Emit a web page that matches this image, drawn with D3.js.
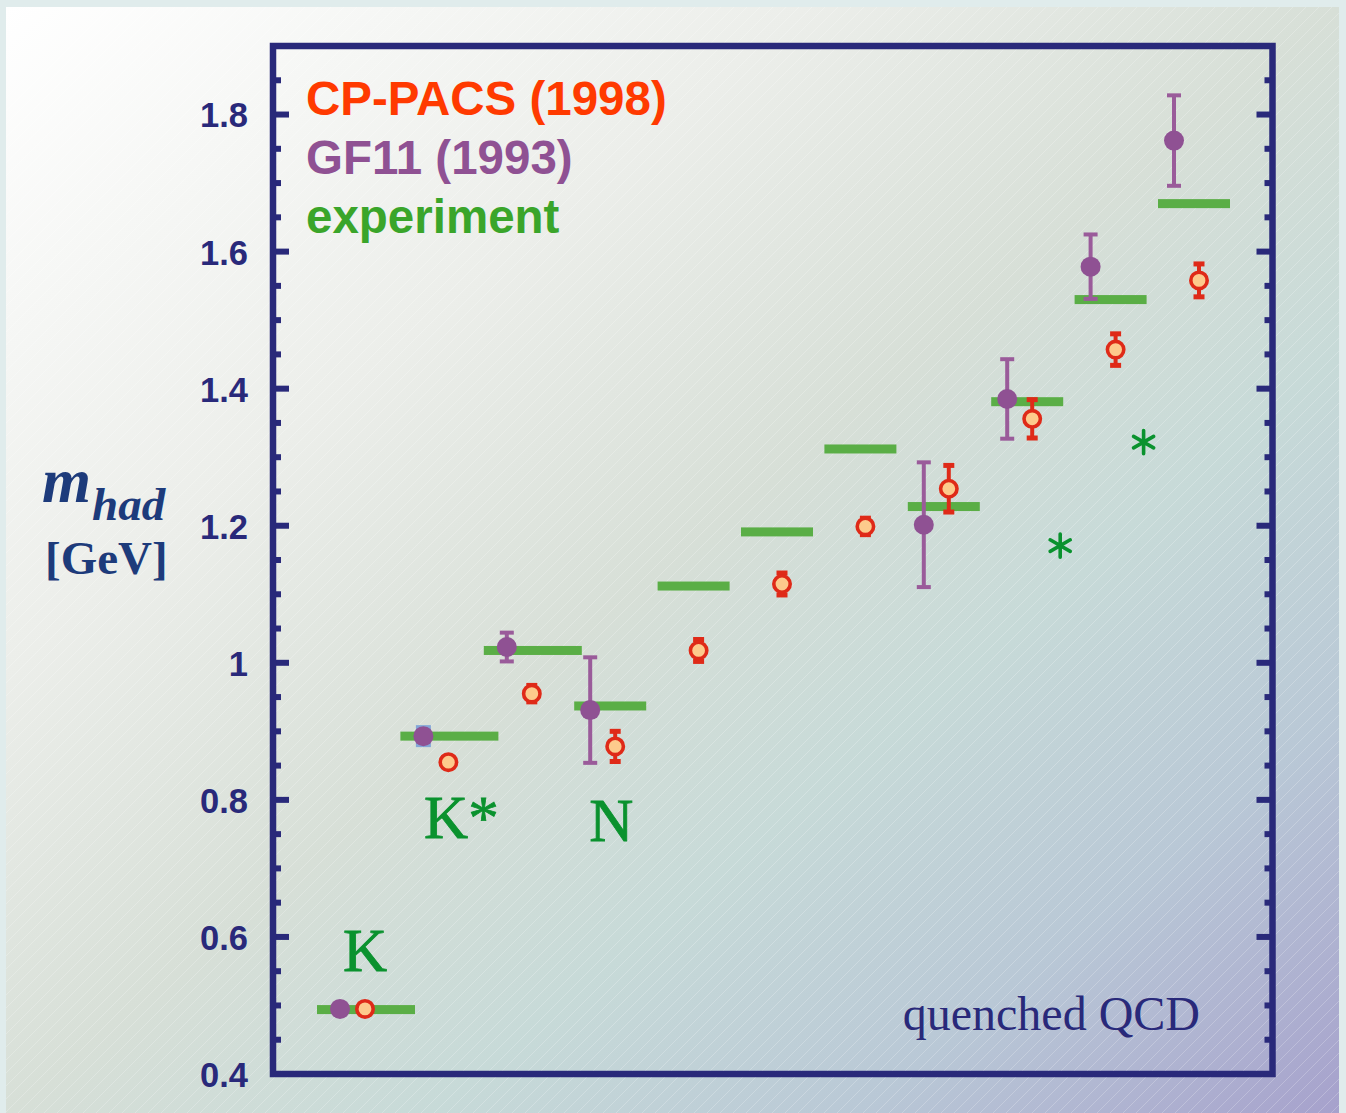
<!DOCTYPE html>
<html>
<head>
<meta charset="utf-8">
<script src="https://cdn.jsdelivr.net/npm/d3@7"></script>
<style>
  html, body { margin: 0; padding: 0; background: #e0ecec; }
  svg { display: block; }
</style>
</head>
<body>
<script>
// ---------------- data ----------------
const categories = ["K", "K*", "φ", "N", "Λ", "Σ", "Ξ", "Δ", "Σ*", "Ξ*", "Ω"];
const hadronType = ["meson", "meson", "meson", "baryon", "baryon", "baryon", "baryon", "baryon", "baryon", "baryon", "baryon"];
const experiment = [0.494, 0.893, 1.018, 0.937, 1.112, 1.191, 1.312, 1.228, 1.381, 1.530, 1.670];
const cpPacs     = [0.495, 0.855, 0.955, 0.878, 1.018, 1.115, 1.199, 1.254, 1.356, 1.457, 1.558];
const cpPacsErr  = [0, 0, 0.012, 0.022, 0.016, 0.016, 0.012, 0.034, 0.028, 0.023, 0.024];
const gf11       = [0.495, 0.893, 1.023, 0.931, null, null, null, 1.2015, 1.385, 1.578, 1.762];
const gf11Err    = [0, 0, 0.021, 0.077, null, null, null, 0.091, 0.058, 0.047, 0.066];
const gf11Input  = ["K*"];
const starCats   = ["Σ*", "Ξ*"];
const starValues = [1.171, 1.322];
const labelTexts  = ["K", "K*", "N"];
const labelCats   = ["K", "K*", "N"];
const labelValues = [0.550, 0.745, 0.740];
const yTickValues = [0.4, 0.6, 0.8, 1.0, 1.2, 1.4, 1.6, 1.8];
const yTickLabels = ["0.4", "0.6", "0.8", "1", "1.2", "1.4", "1.6", "1.8"];
const legendNames = ["CP-PACS (1998)", "GF11 (1993)", "experiment"];

// ---------------- layout ----------------
const W = 1346, H = 1113;
const frame = { left: 273, right: 1272.5, top: 46, bottom: 1074 };
const C = {
  navy: "#29297a", cp: "#ff3a00", cpRing: "#df2a18", cpFill: "#fdca8c",
  gf: "#8f5193", gfErr: "#9a5b9a", exp: "#5aae46", expLegend: "#3aa52a",
  label: "#0a922e", axisTitle: "#1d3b7b", input: "#84a6d8"
};

const svg = d3.select("body").append("svg").attr("width", W).attr("height", H);
const defs = svg.append("defs");

const grad = defs.append("linearGradient").attr("id", "bg")
  .attr("x1", 0).attr("y1", 0).attr("x2", 1).attr("y2", 1);
[[0, "#ffffff"], [0.3, "#eceeea"], [0.5, "#d7dfd7"], [0.66, "#c7dad8"], [0.82, "#b9c8d6"], [1, "#a6a1cc"]]
  .forEach(([o, c]) => grad.append("stop").attr("offset", o).attr("stop-color", c));

const pat = defs.append("pattern").attr("id", "hatch").attr("patternUnits", "userSpaceOnUse")
  .attr("width", 13).attr("height", 13);
pat.append("path").attr("d", "M-1,14 L14,-1").attr("stroke", "#ffffff").attr("stroke-width", 1).attr("stroke-opacity", 0.22);

svg.append("rect").attr("x", 0).attr("y", 0).attr("width", W).attr("height", H).attr("fill", "#e0ecec");
svg.append("rect").attr("x", 6).attr("y", 7).attr("width", 1333).attr("height", H - 7).attr("fill", "url(#bg)");
svg.append("rect").attr("x", 6).attr("y", 7).attr("width", 1333).attr("height", H - 7).attr("fill", "url(#hatch)");

// ---------------- scales ----------------
const y = d3.scaleLinear().domain([0.4, 1.9]).range([frame.bottom, frame.top]);
const x = d3.scalePoint().domain(categories).range([340, 1174]);

const rows = categories.map((c, i) => ({
  cat: c, type: hadronType[i], exp: experiment[i],
  cp: cpPacs[i], cpErr: cpPacsErr[i], gf: gf11[i], gfErr: gf11Err[i]
}));

// ---------------- axes / frame ----------------
const minorTicks = d3.range(0, 31).map(k => 0.4 + k * 0.05).filter(v => v > 0.401 && v < 1.899);
const isMajor = v => Math.abs((v - 0.4) / 0.2 - Math.round((v - 0.4) / 0.2)) < 1e-6;

const gL = svg.append("g").attr("transform", `translate(${frame.left},0)`);
gL.selectAll("line").data(minorTicks).join("line")
  .attr("x1", 0).attr("x2", v => isMajor(v) ? 16 : 8)
  .attr("y1", v => y(v)).attr("y2", v => y(v))
  .attr("stroke", C.navy).attr("stroke-width", 6);
const gR = svg.append("g").attr("transform", `translate(${frame.right},0)`);
gR.selectAll("line").data(minorTicks).join("line")
  .attr("x1", 0).attr("x2", v => isMajor(v) ? -16 : -8)
  .attr("y1", v => y(v)).attr("y2", v => y(v))
  .attr("stroke", C.navy).attr("stroke-width", 6);

svg.append("rect")
  .attr("x", frame.left).attr("y", frame.top)
  .attr("width", frame.right - frame.left).attr("height", frame.bottom - frame.top)
  .attr("fill", "none").attr("stroke", C.navy).attr("stroke-width", 6.5);

// y tick labels via d3 axis
const yAxis = d3.axisLeft(y).tickValues(yTickValues)
  .tickFormat((d, i) => yTickLabels[i]).tickSize(0).tickPadding(0);
const gY = svg.append("g").attr("transform", "translate(248,0)").call(yAxis);
gY.select(".domain").remove();
gY.selectAll("text")
  .attr("font-family", "'Liberation Sans', Arial, sans-serif")
  .attr("font-weight", "bold").attr("font-size", 34.5).attr("fill", C.navy)
  .attr("dy", "0.36em");

// y-axis title
const t1 = svg.append("text").attr("x", 42).attr("y", 502)
  .attr("font-family", "'Liberation Serif', 'Times New Roman', serif")
  .attr("font-weight", "bold").attr("font-style", "italic").attr("fill", C.axisTitle);
t1.append("tspan").attr("font-size", 63).text("m");
t1.append("tspan").attr("font-size", 47).attr("x", 92).attr("y", 520).text("had");
svg.append("text").attr("x", 45).attr("y", 574)
  .attr("font-family", "'Liberation Serif', 'Times New Roman', serif")
  .attr("font-weight", "bold").attr("font-size", 47).attr("fill", C.axisTitle)
  .text("[GeV]");

// ---------------- experiment bars ----------------
const plot = svg.append("g");
plot.selectAll("rect.exp").data(rows).join("rect").attr("class", "exp")
  .attr("x", d => x(d.cat) + (d.type === "meson" ? -23 : -16))
  .attr("width", d => d.type === "meson" ? 98 : 72)
  .attr("y", d => y(d.exp) - 4.5).attr("height", 9)
  .attr("fill", C.exp);

// GF11 input marker
plot.selectAll("rect.inp").data(rows.filter(d => gf11Input.includes(d.cat))).join("rect")
  .attr("class", "inp")
  .attr("x", d => x(d.cat) - 7.5).attr("width", 15)
  .attr("y", d => y(d.gf) - 11).attr("height", 22)
  .attr("fill", C.input);

// GF11 error bars
const gfRows = rows.filter(d => d.gf !== null);
const gfE = plot.selectAll("g.gfe").data(gfRows.filter(d => d.gfErr > 0)).join("g").attr("class", "gfe");
gfE.append("line")
  .attr("x1", d => x(d.cat)).attr("x2", d => x(d.cat))
  .attr("y1", d => y(d.gf + d.gfErr)).attr("y2", d => y(d.gf - d.gfErr))
  .attr("stroke", C.gfErr).attr("stroke-width", 4);
[1, -1].forEach(s => gfE.append("line")
  .attr("x1", d => x(d.cat) - 7).attr("x2", d => x(d.cat) + 7)
  .attr("y1", d => y(d.gf + s * d.gfErr)).attr("y2", d => y(d.gf + s * d.gfErr))
  .attr("stroke", C.gfErr).attr("stroke-width", 4));

// CP-PACS error bars
const cpE = plot.selectAll("g.cpe").data(rows.filter(d => d.cpErr > 0)).join("g").attr("class", "cpe");
cpE.append("line")
  .attr("x1", d => x(d.cat) + 25).attr("x2", d => x(d.cat) + 25)
  .attr("y1", d => y(d.cp + d.cpErr)).attr("y2", d => y(d.cp - d.cpErr))
  .attr("stroke", C.cpRing).attr("stroke-width", 4);
[1, -1].forEach(s => cpE.append("line")
  .attr("x1", d => x(d.cat) + 25 - 5.5).attr("x2", d => x(d.cat) + 25 + 5.5)
  .attr("y1", d => y(d.cp + s * d.cpErr)).attr("y2", d => y(d.cp + s * d.cpErr))
  .attr("stroke", C.cpRing).attr("stroke-width", 5));

// GF11 points
plot.selectAll("circle.gf").data(gfRows).join("circle").attr("class", "gf")
  .attr("cx", d => x(d.cat)).attr("cy", d => y(d.gf)).attr("r", 10)
  .attr("fill", C.gf);

// CP-PACS points
plot.selectAll("circle.cp").data(rows).join("circle").attr("class", "cp")
  .attr("cx", d => x(d.cat) + 25).attr("cy", d => y(d.cp)).attr("r", 8.2)
  .attr("fill", C.cpFill).attr("stroke", C.cpRing).attr("stroke-width", 3.6);

// green asterisks (six-armed symbols)
const starSym = d3.symbol().type(d3.symbolAsterisk).size(380);
plot.selectAll("path.star").data(starCats.map((c, i) => ({ cat: c, v: starValues[i] }))).join("path")
  .attr("class", "star")
  .attr("transform", d => `translate(${x(d.cat) + 53},${y(d.v)})`)
  .attr("d", starSym)
  .attr("fill", "none").attr("stroke", C.label).attr("stroke-width", 3.6).attr("stroke-linecap", "round");

// hadron labels
const labelDx = { "K": 25, "K*": 38, "N": 21 };
plot.selectAll("text.lab").data(labelTexts.map((t, i) => ({ t, cat: labelCats[i], v: labelValues[i] }))).join("text")
  .attr("class", "lab")
  .attr("x", d => x(d.cat) + labelDx[d.cat]).attr("y", d => y(d.v))
  .attr("text-anchor", "middle")
  .attr("font-family", "'Liberation Serif', 'Times New Roman', serif")
  .attr("font-size", 61).attr("fill", C.label)
  .attr("stroke", C.label).attr("stroke-width", 0.8).text(d => d.t);

// legend
const legendColors = [C.cp, C.gf, C.expLegend];
svg.selectAll("text.leg").data(legendNames).join("text").attr("class", "leg")
  .attr("x", 306).attr("y", (d, i) => 115 + i * 59)
  .attr("font-family", "'Liberation Sans', Arial, sans-serif")
  .attr("font-weight", "bold").attr("font-size", 47.5)
  .attr("fill", (d, i) => legendColors[i]).text(d => d);

// note
svg.append("text").attr("x", 1200).attr("y", 1030).attr("text-anchor", "end")
  .attr("font-family", "'Liberation Serif', 'Times New Roman', serif")
  .attr("font-size", 48).attr("fill", C.navy).text("quenched QCD");
</script>
</body>
</html>
